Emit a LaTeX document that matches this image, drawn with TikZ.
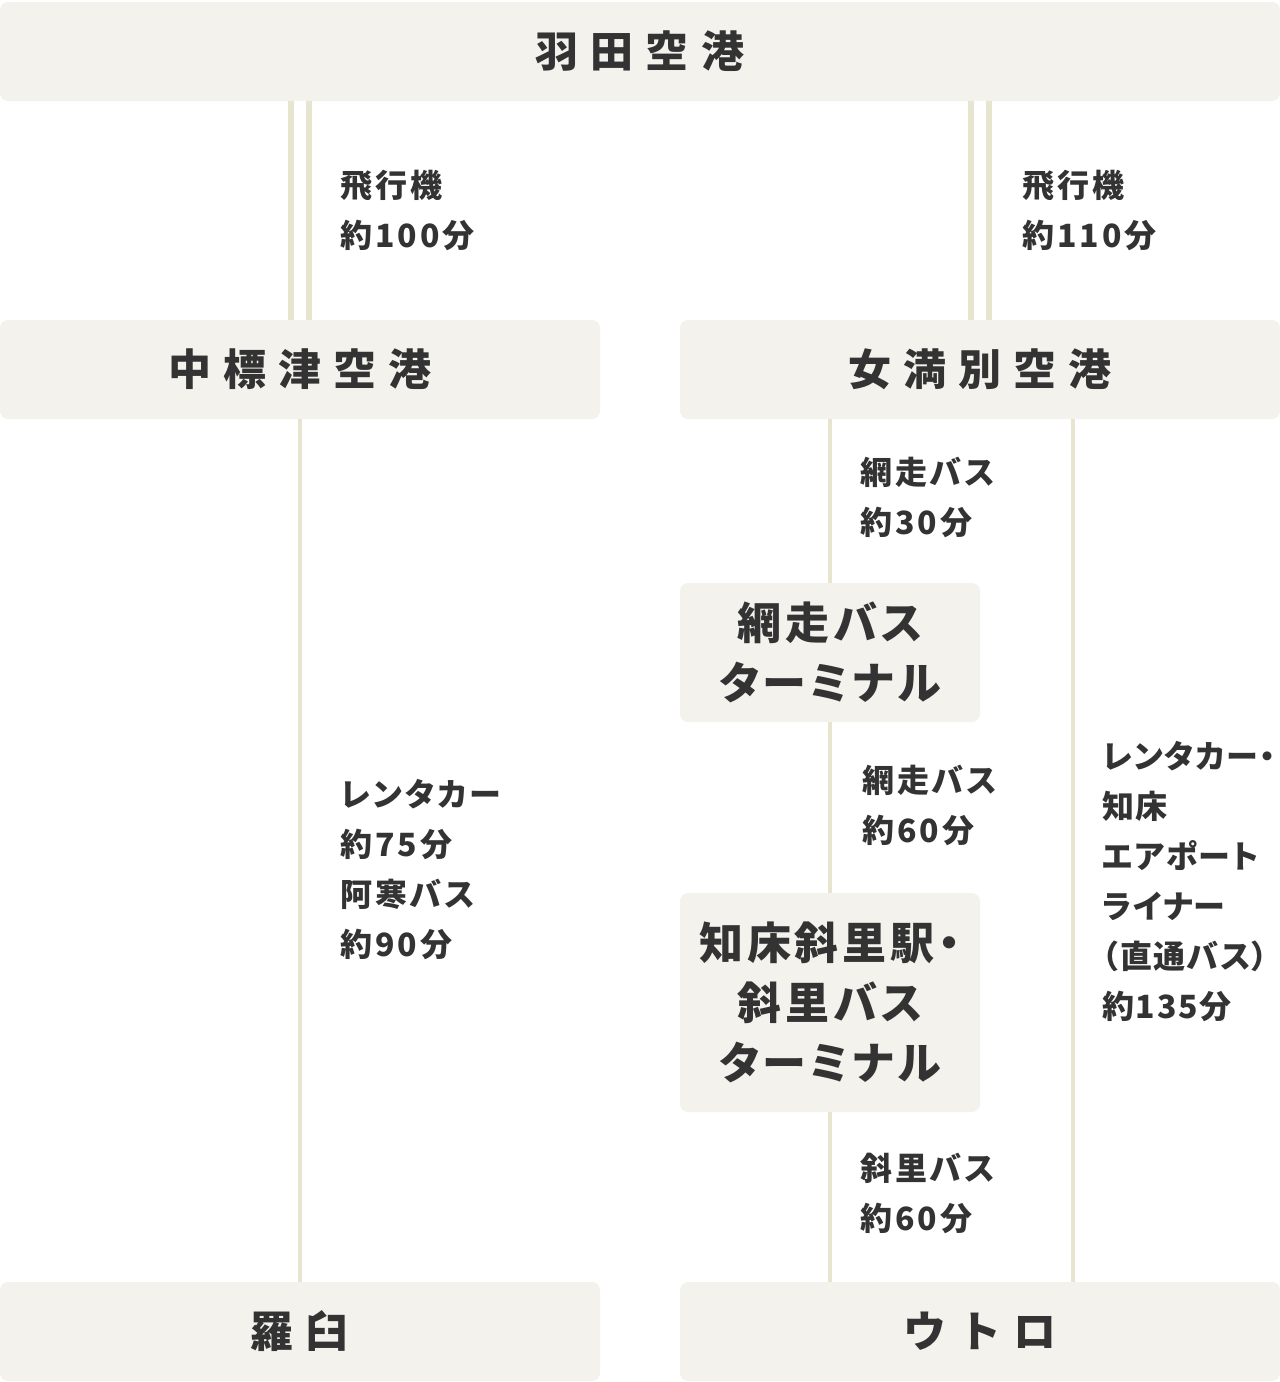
\documentclass[tikz,border=0pt]{standalone}
\usepackage{fontspec}
\setmainfont{Noto Sans CJK JP}
\usepackage{tikz}
\usetikzlibrary{
  arrows.meta,
  calc,
  positioning
}
\definecolor{boxfill}{HTML}{F3F2ED}
\definecolor{rail}{HTML}{E7E4D0}
\definecolor{ink}{HTML}{333333}

\begin{document}
\begin{tikzpicture}[x=0.5pt,y=-0.5pt,
  place/.style={fill=boxfill,rounded corners=4pt,text=ink,inner sep=0pt,
    font={\fontsize{21.5pt}{30pt}\selectfont\bfseries\addfontfeatures{LetterSpace=28}}},
  halt/.style={fill=boxfill,rounded corners=4pt,text=ink,inner sep=0pt,align=center,
    font={\fontsize{22pt}{30pt}\selectfont\bfseries\addfontfeatures{LetterSpace=9,RawFeature=+palt}}},
  info/.style={anchor=west,align=left,inner sep=0pt,text=ink,
    font={\fontsize{16pt}{25pt}\selectfont\bfseries\addfontfeatures{LetterSpace=9,RawFeature=+palt}}},
  air/.style={draw=rail,line width=3pt,double=white,double distance=6pt},
  road/.style={draw=rail,line width=1.75pt}]
  \useasboundingbox (0,0) rectangle (1280,1382);
  % stations
  \node (hnd) at (640,51.5)    [place,minimum width=640pt,minimum height=49.5pt] {羽田空港};
  \node (nks) at (300,369.5)   [place,minimum width=300pt,minimum height=49.5pt] {中標津空港};
  \node (mmb) at (980,369.5)   [place,minimum width=300pt,minimum height=49.5pt] {女満別空港};
  \node (abt) at (830,652.5)   [halt,minimum width=150pt,minimum height=69.5pt] {網走バス\\ターミナル};
  \node (shr) at (830,1002.5)  [halt,minimum width=150pt,minimum height=109.5pt] {知床斜里駅・\\斜里バス\\ターミナル};
  \node (rau) at (300,1331.5)  [place,minimum width=300pt,minimum height=49.5pt] {羅臼};
  \node (utr) at (980,1331.5)  [place,minimum width=300pt,minimum height=49.5pt] {ウトロ};
  \coordinate (rTop) at (1073,419);
  \coordinate (rBot) at (1073,1282);
  % routes
  \draw[air]  (hnd.south -| nks.north) -- (nks.north);
  \draw[air]  (hnd.south -| mmb.north) -- (mmb.north);
  \draw[road] (nks.south) -- (rau.north);
  \draw[road] (mmb.south -| abt.north) -- (abt.north);
  \draw[road] (abt.south) -- (shr.north);
  \draw[road] (shr.south) -- (utr.north -| shr.south);
  \draw[road] (rTop) -- (rBot);
  % times
  \node (tHn) at (340,210)  [info] {飛行機\\約100分};
  \node (tHm) at (1022,210) [info] {飛行機\\約110分};
  \node (tNr) at (340,870)  [info] {レンタカー\\約75分\\阿寒バス\\約90分};
  \node (tMa) at (860,497)  [info] {網走バス\\約30分};
  \node (tAs) at (862,805)  [info] {網走バス\\約60分};
  \node (tSu) at (860,1193) [info] {斜里バス\\約60分};
  \node (tMu) at (1102,882) [info,font={\fontsize{16pt}{25pt}\selectfont\bfseries\addfontfeatures{LetterSpace=5,RawFeature=+palt}}]
    {レンタカー・\\知床\\エアポート\\ライナー\\（直通バス）\\約135分};
\end{tikzpicture}
\end{document}
